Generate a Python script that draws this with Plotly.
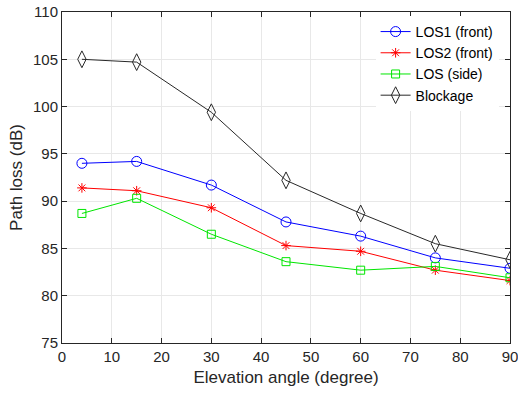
import plotly.graph_objects as go

# Elevation angles (degree)
elevation = [4, 15, 30, 45, 60, 75, 90]

# Path loss (dB) per scenario
los1_front = [94.0, 94.2, 91.7, 87.8, 86.3, 84.0, 82.9]
los2_front = [91.4, 91.1, 89.3, 85.3, 84.7, 82.7, 81.6]
los_side = [88.7, 90.3, 86.5, 83.6, 82.7, 83.1, 81.9]
blockage = [105.0, 104.7, 99.4, 92.2, 88.7, 85.5, 83.8]

series = [
    ("LOS1 (front)", los1_front, "rgb(0,0,255)", "circle-open", 10),
    ("LOS2 (front)", los2_front, "rgb(255,0,0)", "asterisk-open", 8),
    ("LOS (side)", los_side, "rgb(0,230,0)", "square-open", 8),
    ("Blockage", blockage, "rgb(40,40,40)", "diamond-tall-open", 12),
]

fig = go.Figure()
for name, vals, color, symbol, size in series:
    fig.add_trace(go.Scatter(
        x=elevation, y=vals, name=name, mode="lines+markers",
        line=dict(color=color, width=1),
        marker=dict(symbol=symbol, size=size, color=color,
                    line=dict(color=color, width=1)),
    ))

font_family = "Arial, Liberation Sans, sans-serif"

axis_common = dict(
    showline=True, linecolor="#262626", linewidth=1, mirror="ticks",
    ticks="inside", ticklen=5, tickcolor="#262626",
    showgrid=True, gridcolor="rgb(232,232,232)", gridwidth=1,
    zeroline=False, automargin=False, ticklabeloverflow="allow",
    tickfont=dict(family=font_family, size=15, color="#262626"),
    title_font=dict(family=font_family, size=17, color="#262626"),
)

fig.update_xaxes(range=[0, 90], dtick=10, title_text="Elevation angle (degree)",
                 title_standoff=7, **axis_common)
fig.update_yaxes(range=[75, 110], dtick=5, title_text="Path loss (dB)",
                 title_standoff=6, **axis_common)

fig.update_layout(
    width=518, height=394,
    margin=dict(l=62, r=8, t=12, b=51),
    plot_bgcolor="white", paper_bgcolor="white",
    font=dict(family=font_family, color="#262626"),
    legend=dict(
        x=0.7, y=0.988, xanchor="left", yanchor="top",
        bgcolor="white", borderwidth=0,
        font=dict(family=font_family, size=14, color="#000000"),
        tracegroupgap=0, itemwidth=30,
    ),
    showlegend=True,
)

fig.write_html("out.html")
